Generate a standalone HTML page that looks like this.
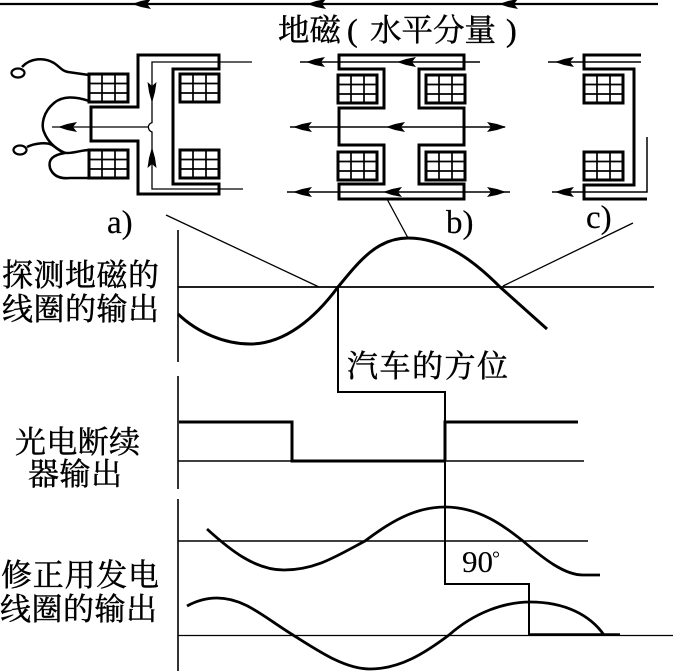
<!DOCTYPE html>
<html><head><meta charset="utf-8"><style>
html,body{margin:0;padding:0;background:#fff}
svg{display:block}
text{font-family:"Liberation Serif","Noto Serif CJK SC",serif;fill:#000;stroke:#000;stroke-width:.45px}
</style></head><body>
<svg width="673" height="671" viewBox="0 0 673 671" xmlns="http://www.w3.org/2000/svg">
<defs>
<path id="al" d="M0 0 L9 -3 L19 -5 L15 0 L19 5 L9 3Z" fill="#000"/>
<path id="ar" d="M0 0 L-9 -3 L-19 -5 L-15 0 L-19 5 L-9 3Z" fill="#000"/>
<g id="coil" fill="none" stroke="#000">
<rect x="0" y="0" width="39" height="28" stroke-width="3"/>
<path d="M13 0V28M26 0V28M0 9.500H39M0 19H39" stroke-width="1.700"/>
</g>
</defs>
<g fill="none" stroke="#000" stroke-linejoin="miter">
<!-- top line -->
<path d="M0 4H658" stroke-width="2.200"/>
<!-- a -->
<path d="M219 55H138V107H91V141H138V194H219V184H173V69H219Z" stroke-width="3"/>
<path d="M252 62H152V123M243 189H152V132M148 127H52" stroke-width="1.300"/>
<path d="M152.500 122.500A4.800 4.800 0 0 0 152.500 132" stroke-width="1.300"/>
<ellipse cx="18" cy="73" rx="6.500" ry="4.500" stroke-width="2.200"/>
<ellipse cx="20" cy="150" rx="6.500" ry="4.500" stroke-width="2.200"/>
<path d="M22 67C30 58 44 57 54 63C60 67 62 71 68 72L89 75" stroke-width="2.500"/>
<path d="M89 101C75 96 62 96 54 103C43 112 41 125 44 132C48 142 56 149 65 153" stroke-width="2.500"/>
<path d="M27 147C35 143 47 142 52 145C58 149 62 153 67 153C75 153 82 150 89 150" stroke-width="2.500"/>
<path d="M65 153C52 155 48 160 50 168C53 176 60 179 70 178H89" stroke-width="2.500"/>
<!-- b -->
<path d="M339 69V55H464V69H419V108H464V145H419V184H464V199H339V184H384V145H339V108H384V69Z" stroke-width="3"/>
<path d="M300 62H480M290 127H505M287 192H510" stroke-width="1.500"/>
<path d="M387 199L408 238" stroke-width="1.300"/>
<!-- c -->
<path d="M641 55H584V69H634V185H584V199H647" stroke-width="3"/>
<path d="M641 62H548M647 137V192H552" stroke-width="1.500"/>
<!-- axes -->
<path d="M178 230V362M178 376V489M178 499V671" stroke-width="1.600"/>
<!-- leaders -->
<path d="M166 215L319 287M503 286L633 223" stroke-width="1.300"/>
<!-- horizontal baselines -->
<path d="M178 287H654" stroke-width="1.800"/>
<path d="M178 461H584" stroke-width="1.600"/>
<path d="M178 541H588" stroke-width="1.600"/>
<path d="M178 635.500H673" stroke-width="1.200"/>
<!-- curves -->
<path d="M178 314C198 333 225 344 250 344C285 344 315 318 338 287C360 260 378 238 408 238C445 238 475 262 500 287L547 329" stroke-width="3"/>
<path d="M207 529C230 550 255 570 284 570C315 570 335 557 365 541C390 522 415 507 445 507C480 507 505 527 523 541C545 560 565 575 583 575H600" stroke-width="2.800"/>
<path d="M187 606C198 600 208 598 217 598C245 598 265 618 293 635C320 652 345 669 370 669C400 669 425 653 449 635C475 612 505 602 530 602C565 602 590 615 604 635" stroke-width="2.800"/>
<!-- square wave -->
<path d="M179 422H292V461H445" stroke-width="3"/>
<path d="M445 461V422H578" stroke-width="3"/>
<!-- azimuth steps -->
<path d="M338 287V392H445V498" stroke-width="2"/>
<path d="M445 461V584H529V635" stroke-width="2"/>
<path d="M529 634.500H620" stroke-width="2.400"/>
</g>
<!-- coils -->
<use href="#coil" x="89" y="74"/><use href="#coil" x="89" y="150"/>
<use href="#coil" x="180" y="74"/><use href="#coil" x="180" y="150"/>
<use href="#coil" x="338" y="75"/><use href="#coil" x="426" y="75"/>
<use href="#coil" x="338" y="152"/><use href="#coil" x="426" y="152"/>
<use href="#coil" x="584" y="75"/><use href="#coil" x="584" y="152"/>
<!-- arrowheads -->
<use href="#al" x="132" y="4"/><use href="#al" x="307" y="4"/><use href="#al" x="499" y="4"/>
<use href="#al" x="58" y="127"/>
<path d="M152 103L149 92L147.500 82L152 86L156.500 82L155 92Z" fill="#000"/>
<path d="M152 147L149 158L147.500 168L152 164L156.500 168L155 158Z" fill="#000"/>
<use href="#al" x="306" y="62"/><use href="#al" x="397" y="62"/>
<use href="#al" x="293" y="127"/><use href="#al" x="386" y="127"/><use href="#ar" x="506" y="127"/>
<use href="#al" x="293" y="192"/><use href="#al" x="383" y="192"/><use href="#ar" x="506" y="192"/>
<use href="#al" x="555" y="62"/><use href="#al" x="555" y="192"/>
<!-- text -->
<text x="278" y="41" font-size="31" textLength="63" lengthAdjust="spacingAndGlyphs">地磁</text>
<text x="347" y="41" font-size="32">(</text>
<text x="370" y="41" font-size="31" textLength="126" lengthAdjust="spacingAndGlyphs">水平分量</text>
<text x="506" y="41" font-size="32">)</text>
<text x="107" y="233" font-size="33" style="stroke-width:.2px">a)</text>
<text x="446" y="233" font-size="33" style="stroke-width:.2px">b)</text>
<text x="586" y="228" font-size="33" style="stroke-width:.2px">c)</text>
<text x="2" y="286" font-size="31" textLength="157">探测地磁的</text>
<text x="2" y="320" font-size="31" textLength="157">线圈的输出</text>
<text x="347" y="377" font-size="31" textLength="161">汽车的方位</text>
<text x="15" y="453" font-size="31" textLength="125">光电断续</text>
<text x="28" y="485" font-size="31" textLength="94">器输出</text>
<text x="1" y="586" font-size="31" textLength="158">修正用发电</text>
<text x="0" y="620" font-size="31" textLength="157">线圈的输出</text>
<text x="462" y="572" font-size="31" style="stroke-width:.1px">90</text>
<text x="492" y="565" font-size="20" style="stroke-width:0">°</text>
</svg>
</body></html>
